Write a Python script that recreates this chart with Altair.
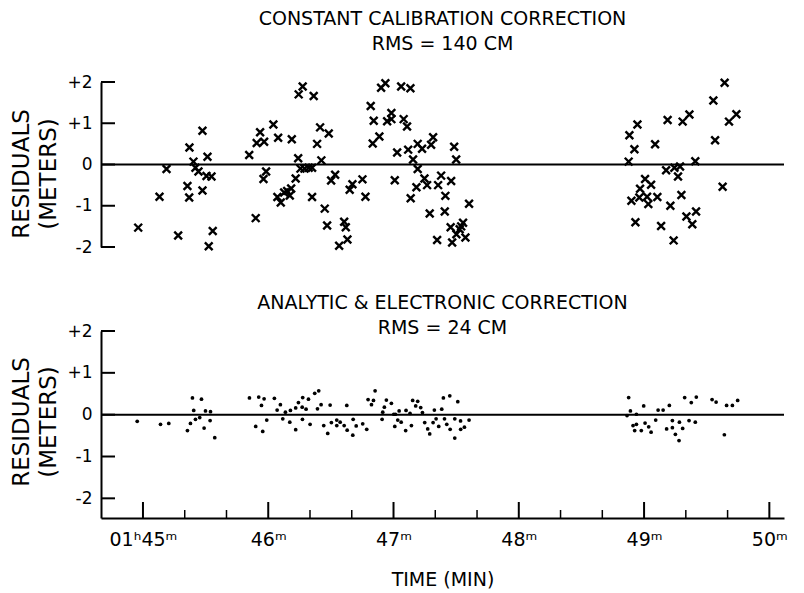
import altair as alt
import pandas as pd

# ---------------- data ----------------
top_time = [44.962, 45.132, 45.188, 45.281, 45.371, 45.355, 45.369, 45.475, 45.403, 45.419,
            45.443, 45.475, 45.515, 45.507, 45.547, 45.557, 45.525, 45.848, 45.900, 45.935,
            45.908, 45.967, 45.983, 45.962, 46.041, 46.079, 46.073, 46.100, 46.127, 46.151,
            46.172, 46.183, 46.188, 46.219, 46.239, 46.243, 46.275, 46.363, 46.257, 46.289,
            46.323, 46.350, 46.350, 46.414, 46.390, 46.424, 46.483, 46.451, 46.470, 46.534,
            46.502, 46.606, 46.619, 46.632, 46.566, 46.672, 46.650, 46.752, 46.776, 46.834,
            46.887, 46.818, 46.842, 46.901, 46.935, 46.949, 46.983, 46.983, 47.061, 47.135,
            47.081, 47.108, 47.010, 47.029, 47.117, 47.156, 47.193, 47.193, 47.228, 47.183,
            47.137, 47.247, 47.268, 47.300, 47.316, 47.289, 47.348, 47.356, 47.380, 47.414,
            47.409, 47.460, 47.484, 47.500, 47.456, 47.468, 47.502, 47.528, 47.555, 47.574,
            47.540, 47.603,
            48.877, 48.883, 48.947, 48.923, 49.088, 49.188, 49.308, 49.362, 49.553, 49.643,
            49.678, 49.737, 49.567, 49.409, 49.176, 49.242, 49.287, 49.271, 49.008, 49.056,
            48.968, 48.899, 48.962, 49.024, 49.034, 49.106, 49.210, 49.298, 48.931, 49.136,
            49.338, 49.415, 49.385, 49.236, 49.627]
top_resid = [-1.53, -0.78, -0.11, -1.72, 0.41, -0.52, -0.80, 0.82, 0.07, -0.08,
             -0.17, -0.63, 0.19, -0.28, -0.29, -1.61, -1.98, 0.23, -1.30, 0.78,
             0.52, 0.55, -0.17, -0.35, 0.97, 0.65, -0.79, -0.92, -0.68, -0.64,
             -0.75, -0.58, 0.61, -0.34, 0.15, 1.70, 1.89, 1.66, -0.10, -0.10,
             -0.08, -0.08, -0.79, 0.90, 0.50, 0.10, 0.75, -1.07, -1.48, -0.25,
             -0.39, -1.39, -1.52, -1.82, -1.97, -0.48, -0.61, -0.36, -0.78, 0.51,
             0.68, 1.42, 1.06, 1.86, 1.97, 1.05, 1.10, 1.25, 1.89, 1.85,
             1.10, 0.92, -0.38, 0.29, 0.36, 0.12, -0.11, 0.50, 0.38, -0.55,
             -0.82, -0.34, -0.50, 0.48, 0.66, -1.19, -1.83, -0.50, -0.27, -0.76,
             -1.14, -0.40, 0.43, 0.12, -1.52, -1.89, -1.69, -1.57, -1.41, -1.77,
             -1.50, -0.95,
             0.07, 0.71, 0.97, 0.37, 0.49, 1.08, 1.04, 1.21, 1.55, 1.98,
             1.04, 1.22, 0.59, 0.08, -0.14, -0.08, -0.05, -0.29, -0.35, -0.49,
             -0.59, -0.88, -0.80, -0.78, -0.96, -0.79, -1.00, -0.74, -1.40, -1.49,
             -1.26, -1.14, -1.45, -1.84, -0.54]

bot_time = [44.954, 45.140, 45.206, 45.395, 45.467, 45.405, 45.379, 45.419, 45.453, 45.355,
            45.499, 45.539, 45.536, 45.488, 45.573, 45.850, 45.924, 45.967, 45.946, 45.900,
            45.956, 45.988, 46.049, 46.097, 46.071, 46.137, 46.177, 46.116, 46.172, 46.219,
            46.219, 46.241, 46.275, 46.271, 46.302, 46.321, 46.273, 46.334, 46.371, 46.403,
            46.393, 46.422, 46.443, 46.475, 46.494, 46.504, 46.547, 46.574, 46.547, 46.606,
            46.627, 46.630, 46.678, 46.702, 46.675, 46.754, 46.786, 46.797, 46.840, 46.824,
            46.853, 46.909, 46.914, 46.927, 46.943, 46.983, 47.002, 47.015, 47.010, 47.034,
            47.061, 47.045, 47.097, 47.100, 47.132, 47.143, 47.153, 47.193, 47.177, 47.217,
            47.231, 47.249, 47.273, 47.289, 47.316, 47.326, 47.340, 47.361, 47.385, 47.398,
            47.449, 47.407, 47.425, 47.452, 47.489, 47.489, 47.513, 47.535, 47.603, 47.536,
            47.566,
            48.877, 48.891, 48.864, 48.939, 48.997, 48.912, 48.939, 48.925, 48.978, 49.008,
            49.037, 49.056, 49.093, 49.112, 49.152, 49.202, 49.180, 49.226, 49.226, 49.282,
            49.250, 49.279, 49.308, 49.324, 49.417, 49.377, 49.359, 49.409, 49.543, 49.575,
            49.659, 49.705, 49.747, 49.641]
bot_resid = [-0.16, -0.23, -0.21, 0.40, 0.37, 0.10, -0.21, -0.11, -0.07, -0.38,
             0.09, 0.07, -0.14, -0.32, -0.55, 0.40, 0.42, 0.38, 0.22, -0.28,
             -0.40, -0.13, 0.39, 0.24, 0.11, 0.06, 0.10, -0.10, -0.18, -0.36,
             0.16, 0.29, 0.41, 0.18, 0.13, 0.37, -0.11, -0.23, 0.51, 0.57,
             0.14, 0.24, -0.26, -0.45, 0.23, -0.19, -0.13, -0.18, -0.26, -0.26,
             0.22, -0.37, -0.11, -0.27, -0.49, -0.22, -0.35, 0.36, 0.34, 0.24,
             0.57, -0.11, 0.06, 0.18, 0.35, 0.27, 0.01, 0.01, -0.28, -0.13,
             -0.18, 0.09, -0.38, 0.10, 0.03, -0.26, 0.34, 0.32, 0.21, 0.17,
             0.05, -0.19, -0.34, -0.46, -0.19, 0.11, -0.10, -0.28, 0.13, 0.40,
             0.45, -0.10, -0.23, -0.35, -0.56, -0.10, 0.31, -0.15, -0.13, -0.35,
             -0.30,
             0.41, 0.09, -0.02, 0.01, 0.21, -0.26, -0.23, -0.38, -0.38, -0.20,
             -0.29, -0.42, -0.13, 0.11, 0.11, 0.22, -0.34, -0.31, -0.14, -0.18,
             -0.47, -0.62, -0.33, 0.41, 0.42, 0.29, -0.14, -0.18, 0.36, 0.30,
             0.22, 0.22, 0.34, -0.48]

y_tick_values = [-2, -1, 0, 1, 2]
x_major_ticks = [45, 46, 47, 48, 49, 50]
x_minor_ticks = [45.3333, 45.6667, 46.3333, 46.6667, 47.3333, 47.6667,
                 48.3333, 48.6667, 49.3333, 49.6667]
x_tick_labels = ["01\u02b045\u1d50", "46\u1d50", "47\u1d50", "48\u1d50", "49\u1d50", "50\u1d50"]
zero_level = [0]

top_title = ["CONSTANT CALIBRATION CORRECTION", "RMS = 140 CM"]
bottom_title = ["ANALYTIC & ELECTRONIC CORRECTION", "RMS = 24 CM"]
y_title = ["RESIDUALS", "(METERS)"]
x_title = "TIME (MIN)"

# ---------------- chart ----------------
FONT = "DejaVu Sans"
W = 683
H_TOP = 165
H_BOT = 187

df_top = pd.DataFrame({"t": top_time, "r": top_resid})
df_bot = pd.DataFrame({"t": bot_time, "r": bot_resid})
df_yt = pd.DataFrame({"r": y_tick_values})
df_zero = pd.DataFrame({"r": zero_level})
df_xmaj = pd.DataFrame({"t": x_major_ticks})
df_xmin = pd.DataFrame({"t": x_minor_ticks})

xs = alt.Scale(domain=[44.665, 50.117], nice=False, zero=False)
ys_top = alt.Scale(domain=[-2, 2], nice=False, zero=False)
ys_bot = alt.Scale(domain=[-2.47, 2], nice=False, zero=False)

y_label_expr = ("datum.value > 0 ? '+' + datum.value : "
                "(datum.value < 0 ? '-' + abs(datum.value) : '0')")
x_label_expr = "[" + ",".join("'" + s + "'" for s in x_tick_labels) + "][round(datum.value) - 45]"


def y_axis(title_y):
    return alt.Axis(values=y_tick_values, ticks=False, grid=False,
                    domainColor="black", domainWidth=2,
                    labelExpr=y_label_expr, labelFontSize=17, labelPadding=9,
                    labelColor="black", labelFont=FONT,
                    title=y_title, titleFontSize=23, titleFontWeight="normal",
                    titleLineHeight=27, titlePadding=6, titleColor="black",
                    titleFont=FONT, titleY=title_y)


def x_axis():
    return alt.Axis(values=x_major_ticks, ticks=False, grid=False,
                    domainColor="black", domainWidth=2,
                    labelExpr=x_label_expr, labelFontSize=19,
                    labelPadding=12, labelColor="black", labelFont=FONT,
                    title=x_title, titleFontSize=19,
                    titleFontWeight="normal", titlePadding=21,
                    titleColor="black", titleFont=FONT)


def panel(df_pts, ys, h, title_text, title_offset, title_y, bottom):
    def xenc(field="t"):
        if bottom:
            return alt.X(field + ":Q", scale=xs, axis=x_axis())
        return alt.X(field + ":Q", scale=xs, axis=None)

    def yenc():
        return alt.Y("r:Q", scale=ys, axis=y_axis(title_y))

    if bottom:
        pts = alt.Chart(df_pts).mark_circle(size=14, color="black", opacity=1)
    else:
        pts = alt.Chart(df_pts).mark_point(shape="M-1,-1L1,1M-1,1L1,-1", filled=False,
                                           color="black", strokeWidth=2.4, size=60,
                                           opacity=1)
    pts = pts.encode(x=xenc(), y=yenc())

    zero = alt.Chart(df_zero).mark_rule(color="black", strokeWidth=2).encode(y=yenc())
    yt = alt.Chart(df_yt).mark_rule(color="black", strokeWidth=2).encode(
        y=yenc(), x=alt.value(0), x2=alt.value(14))
    layers = [pts, zero, yt]
    if bottom:
        xmaj = alt.Chart(df_xmaj).mark_rule(color="black", strokeWidth=2).encode(
            x=xenc(), y=alt.value(h), y2=alt.value(h - 16))
        xmin = alt.Chart(df_xmin).mark_rule(color="black", strokeWidth=1.5).encode(
            x=xenc(), y=alt.value(h), y2=alt.value(h - 8))
        layers += [xmaj, xmin]
    return alt.layer(*layers).properties(
        width=W, height=h,
        title=alt.TitleParams(text=title_text, fontSize=19, fontWeight="normal",
                              anchor="middle", offset=title_offset, lineHeight=25,
                              color="black", font=FONT))


top = panel(df_top, ys_top, H_TOP, top_title, 19, H_TOP / 2 + 9, False)
bot = panel(df_bot, ys_bot, H_BOT, bottom_title, -16, H_BOT / 2 - 3, True)

chart = alt.vconcat(top, bot, spacing=39).resolve_scale(y="independent").properties(
    padding={"left": 2, "top": 2, "right": 4, "bottom": 0}
).configure(font=FONT).configure_view(strokeWidth=0)

chart.save("out.html", embed_options={"renderer": "svg", "actions": False})
